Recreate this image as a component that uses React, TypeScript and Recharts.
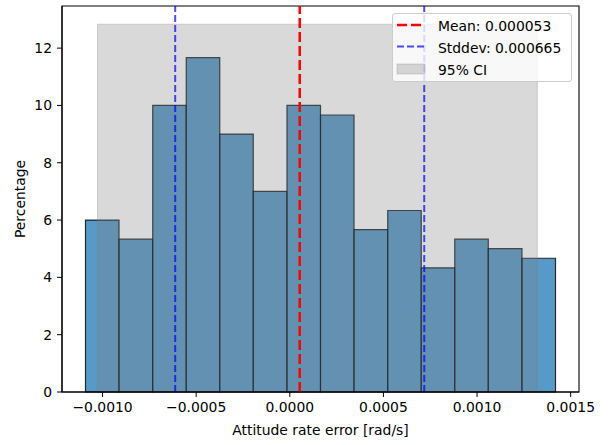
import React from 'react';
import {
  ComposedChart,
  XAxis,
  YAxis,
  ReferenceArea,
  ReferenceLine,
  Legend,
} from 'recharts';

// histogram bin edges (rad/s) and the share of samples in each bin (%)
const binEdges = [
  -0.001091, -0.000912, -0.000732, -0.000553, -0.000374, -0.000195, -0.000015,
  0.000164, 0.000343, 0.000523, 0.000702, 0.000881, 0.00106, 0.00124, 0.001419,
];
const percentages = [
  6.0, 5.333, 10.0, 11.667, 9.0, 7.0, 10.0, 9.667, 5.667, 6.333, 4.333, 5.333, 5.0, 4.667,
];

const meanError = 0.000053;
const stdError = 0.000665;
const ciBounds = [-0.001027, 0.001322];

const xTicks = [-0.001, -0.0005, 0, 0.0005, 0.001, 0.0015];
const yTicks = [0, 2, 4, 6, 8, 10, 12];

const X_DOMAIN: [number, number] = [-0.0012165, 0.0015445];
const Y_DOMAIN: [number, number] = [0, 13.47];

const FONT = '"DejaVu Sans", sans-serif';
const FS = 13.9;

const bins = percentages.map((p, i) => ({ x1: binEdges[i], x2: binEdges[i + 1], pct: p }));
const ciTop = Math.max(...percentages) * 1.1;

const fmtX = (v: number) => {
  const s = Math.abs(v).toFixed(4);
  return v < -1e-12 ? '\u2212' + s : s;
};

const LegendBox = () => (
  <div
    style={{
      width: 180,
      height: 69,
      background: 'rgba(255,255,255,0.8)',
      border: '1px solid #cccccc',
      borderRadius: 3,
      boxSizing: 'border-box',
      position: 'relative',
    }}
  >
    <svg width={180} height={69} style={{ position: 'absolute', left: -1, top: -1 }}>
      <line x1={5} x2={32} y1={12} y2={12} stroke="#ff0000" strokeWidth={2.5} strokeDasharray="10 4" />
      <line x1={5} x2={33} y1={33.5} y2={33.5} stroke="#0000ff" strokeOpacity={0.7} strokeWidth={2} strokeDasharray="7 3" />
      <rect x={5} y={51} width={28} height={10} fill="#808080" fillOpacity={0.3} stroke="#808080" strokeOpacity={0.3} />
      <text x={46} y={17.5} fontFamily={FONT} fontSize={FS}>Mean: {meanError.toFixed(6)}</text>
      <text x={46} y={39.5} fontFamily={FONT} fontSize={FS}>Stddev: {stdError.toFixed(6)}</text>
      <text x={46} y={62} fontFamily={FONT} fontSize={FS}>95% CI</text>
    </svg>
  </div>
);

export default function App() {
  return (
    <div style={{ position: 'absolute', left: 0, top: 0, width: 608, height: 445, background: '#fff' }}>
      <ComposedChart
        width={608}
        height={445}
        data={bins}
        margin={{ top: 6, right: 29, bottom: 0, left: 0 }}
      >
        <XAxis
          type="number"
          dataKey="x1"
          domain={X_DOMAIN}
          ticks={xTicks}
          tickFormatter={fmtX}
          allowDataOverflow
          height={53}
          tickSize={5}
          tickMargin={5}
          tick={{ fill: '#000', fontSize: FS, fontFamily: FONT }}
          axisLine={{ stroke: '#000', strokeWidth: 1.1 }}
          tickLine={{ stroke: '#000' }}
          label={(props: any) => {
            const vb = props.viewBox;
            return (
              <text x={vb.x + vb.width / 2} y={435} textAnchor="middle" fontFamily={FONT} fontSize={FS} fill="#000">
                Attitude rate error [rad/s]
              </text>
            );
          }}
        />
        <YAxis
          type="number"
          domain={Y_DOMAIN}
          ticks={yTicks}
          allowDataOverflow
          width={62}
          tickSize={5}
          tickMargin={5}
          tick={{ fill: '#000', fontSize: FS, fontFamily: FONT }}
          axisLine={{ stroke: '#000', strokeWidth: 1.1 }}
          tickLine={{ stroke: '#000' }}
          label={(props: any) => {
            const vb = props.viewBox;
            const cx = 20;
            const cy = vb.y + vb.height / 2;
            return (
              <text x={cx} y={cy} transform={`rotate(-90, ${cx}, ${cy})`} textAnchor="middle" dominantBaseline="central" fontFamily={FONT} fontSize={FS} fill="#000">
                Percentage
              </text>
            );
          }}
        />

        {/* histogram bars */}
        {bins.map((b, i) => (
          <ReferenceArea
            key={`bin-${i}`}
            x1={b.x1}
            x2={b.x2}
            y1={0}
            y2={b.pct}
            fill="#1f77b4"
            fillOpacity={0.75}
            stroke="#000"
            strokeOpacity={0.8}
            strokeWidth={1.2}
          />
        ))}

        {/* 95% confidence band */}
        <ReferenceArea
          x1={ciBounds[0]}
          x2={ciBounds[1]}
          y1={0}
          y2={ciTop}
          fill="#808080"
          fillOpacity={0.3}
          stroke="#808080"
          strokeOpacity={0.3}
        />

        <ReferenceLine x={meanError} stroke="#ff0000" strokeWidth={2.5} strokeDasharray="10 4" />
        <ReferenceLine x={meanError - stdError} stroke="#0000ff" strokeOpacity={0.7} strokeWidth={2} strokeDasharray="7 3" />
        <ReferenceLine x={meanError + stdError} stroke="#0000ff" strokeOpacity={0.7} strokeWidth={2} strokeDasharray="7 3" />

        {/* axes frame */}
        <ReferenceArea
          x1={X_DOMAIN[0]}
          x2={X_DOMAIN[1]}
          y1={Y_DOMAIN[0]}
          y2={Y_DOMAIN[1]}
          fill="none"
          stroke="#000"
          strokeWidth={1.1}
        />

        <Legend
          layout="vertical"
          align="center"
          verticalAlign="middle"
          content={() => <LegendBox />}
          wrapperStyle={{ position: 'absolute', left: 392, top: 13, width: 180, height: 69 }}
        />
      </ComposedChart>
    </div>
  );
}
